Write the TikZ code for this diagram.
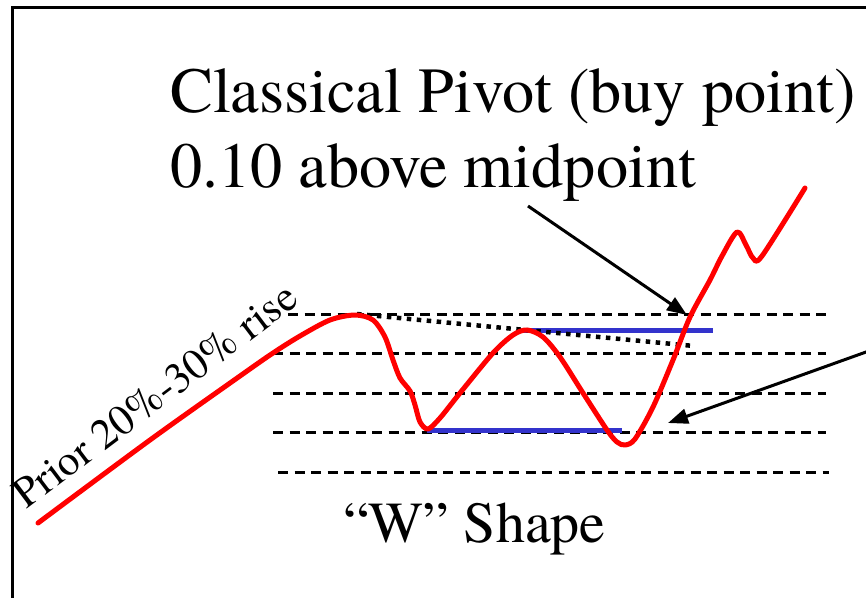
\documentclass[tikz,border=0pt]{standalone}
\usepackage{fontspec}
\setmainfont{TeX Gyre Termes}
\usepackage{tikz}
\usetikzlibrary{arrows.meta,positioning}
\definecolor{wblue}{RGB}{51,51,204}

\begin{document}
\begin{tikzpicture}[x=1pt,y=-1pt,
  lvl/.style={draw=black,line width=3pt,dash pattern=on 10pt off 6.5pt},
  price/.style={draw=red,line width=5pt,line join=round,line cap=round},
  base/.style={draw=wblue,line width=5pt},
  trend/.style={draw=black,line width=4.5pt,dash pattern=on 4.5pt off 5.5pt},
  f/.style={-{Triangle[length=20pt,width=15pt]},line width=3pt},
  big/.style={font=\fontsize{64.3}{75}\selectfont,inner sep=0pt},
  wlab/.style={font=\fontsize{58}{66}\selectfont,inner sep=0pt},
  rlab/.style={font=\fontsize{43}{50}\selectfont,inner sep=0pt}]
\useasboundingbox (0,0) rectangle (866,597);
\clip (0,0) rectangle (866,597);
\draw[line width=3pt] (12,7.5) rectangle (900,640);
% price levels
\foreach \y/\xa/\xb in {314/288/826,353/273/826,393/273/826,432/273/826,472/278/829}
  \draw[lvl] (\xa,\y) -- (\xb,\y);
\draw[base] (523,330) -- (713,330);
\draw[base] (427,430) -- (622,430);
\draw[trend] (357,314) -- (694,346);
\draw[price] plot[smooth,tension=0.5] coordinates {(38,523) (150,440) (240,376) (273,353)
  (300,336) (330,320) (355,315)
  (373,320) (385,337) (393,360) (400,378) (410,391) (415,405) (420,422) (428,429) (440,418)
  (460,393) (493,353) (513,335) (527,330) (543,337) (560,357) (583,393) (607,430) (617,442)
  (625,445) (635,439) (653,407) (673,360) (690,317) (710,280) (722,256) (737,232) (746,245)
  (753,258) (762,256) (805,188)};
% labels
\node[big,anchor=base west] (pivot) at (170,112) {Classical Pivot (buy point)};
\node[big,anchor=base west] (above) at ([yshift=-75pt]pivot.base west) {0.10 above midpoint};
\node[wlab,anchor=base west] (wshape) at (343,542) {“W” Shape};
\node[rlab,anchor=base west,rotate=37] (rise) at (26,510) {Prior 20\%-30\% rise};
\coordinate (tailA) at (528,206);
\coordinate (tipA) at (687,315);
\coordinate (tailB) at (880,347);
\coordinate (tipB) at (668,423);
\draw[f] (tailA) -- (tipA);
\draw[f] (tailB) -- (tipB);
\end{tikzpicture}
\end{document}
